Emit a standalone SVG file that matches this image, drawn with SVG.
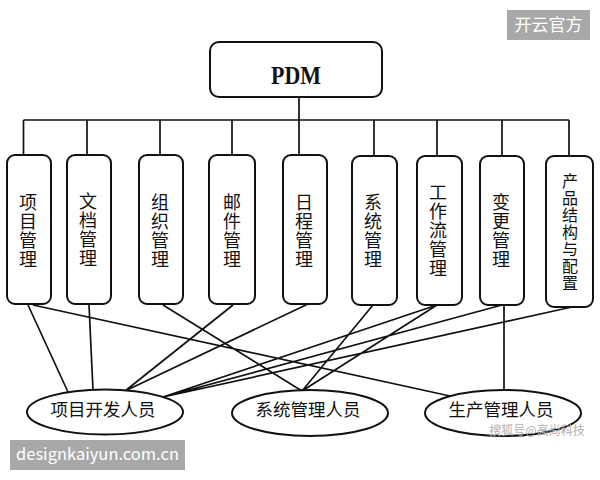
<svg xmlns="http://www.w3.org/2000/svg" width="600" height="480" viewBox="0 0 600 480">
<style>
.box{fill:#fff;stroke:#111;stroke-width:2}
.ell{fill:#fff;stroke:#111;stroke-width:2}
.ln{stroke:#111;stroke-width:1.7;fill:none}
.vt{font-family:"Noto Sans CJK SC","Noto Sans",sans-serif;font-size:18px;fill:#111;text-anchor:middle;writing-mode:vertical-rl;letter-spacing:1px}
.et{font-family:"Noto Sans CJK SC","Noto Sans",sans-serif;font-size:17.5px;fill:#111;text-anchor:middle}
.wm{font-family:"Noto Sans CJK SC","Liberation Sans",sans-serif;fill:#fff}
</style>
<rect width="600" height="480" fill="#fff"/>
<g id="connectors">
<path class="ln" d="M299 97V120M23.5 120H569M23.5 120V155M87 120V155M160 120V155M232 120V155M299 120V155M374 120V155M437 120V155M502 120V155M569 120V155"/>
<path class="ln" d="M28 305L68 392M33 305L450 396M89 305L93 390M163 305L302 391M233 305L125 391M308 304L125 391M373 305L302 391M437 305L302 391M437 305L163 397M502 305L163 397M504 305V393M572 307L163 397"/>
</g>
<g id="pdm"><rect class="box" x="210" y="42" width="172" height="55" rx="9"/><text x="296" y="84" font-family="Liberation Serif,serif" font-weight="bold" font-size="25" text-anchor="middle" textLength="50" lengthAdjust="spacingAndGlyphs" fill="#111">PDM</text></g>
<g id="n1"><rect class="box" x="7" y="155" width="44" height="149" rx="8"/><text class="vt" x="28" y="231">项目管理</text></g>
<g id="n2"><rect class="box" x="67" y="155" width="44" height="149" rx="8"/><text class="vt" x="88" y="230">文档管理</text></g>
<g id="n3"><rect class="box" x="139" y="155" width="44" height="149" rx="8"/><text class="vt" x="160" y="231">组织管理</text></g>
<g id="n4"><rect class="box" x="209" y="155" width="46" height="149" rx="8"/><text class="vt" x="232" y="231">邮件管理</text></g>
<g id="n5"><rect class="box" x="283" y="155" width="44" height="149" rx="8"/><text class="vt" x="304" y="231">日程管理</text></g>
<g id="n6"><rect class="box" x="352" y="156" width="45" height="149" rx="8"/><text class="vt" x="373" y="231">系统管理</text></g>
<g id="n7"><rect class="box" x="417" y="156" width="45" height="149" rx="8"/><text class="vt" x="438" y="231">工作流管理</text></g>
<g id="n8"><rect class="box" x="480" y="156" width="44" height="149" rx="8"/><text class="vt" x="501" y="231">变更管理</text></g>
<g id="n9"><rect class="box" x="546" y="156" width="47" height="151" rx="8"/><text class="vt" x="570" y="232" style="font-size:16px">产品结构与配置</text></g>
<g id="e1"><ellipse class="ell" cx="105" cy="412" rx="78" ry="22.5"/><text class="et" x="103" y="416">项目开发人员</text></g>
<g id="e2"><ellipse class="ell" cx="310" cy="413" rx="78" ry="23"/><text class="et" x="308" y="416">系统管理人员</text></g>
<g id="e3"><ellipse class="ell" cx="503" cy="413" rx="78" ry="23"/><text class="et" x="501" y="416">生产管理人员</text></g>
<g id="watermarks">
<rect x="507" y="10" width="83" height="30" fill="#a8a8a8"/><text class="wm" x="548.5" y="31" font-size="17" text-anchor="middle">开云官方</text>
<rect x="10" y="440" width="175" height="30" fill="#a8a8a8"/><text class="wm" x="97.5" y="460" font-size="16.5" text-anchor="middle" font-family="Liberation Sans,sans-serif">designkaiyun.com.cn</text>
<text x="537" y="435" font-family="Noto Sans CJK SC,sans-serif" font-size="12" fill="#b0b0b0" text-anchor="middle">搜狐号@高尚科技</text>
</g>
</svg>
